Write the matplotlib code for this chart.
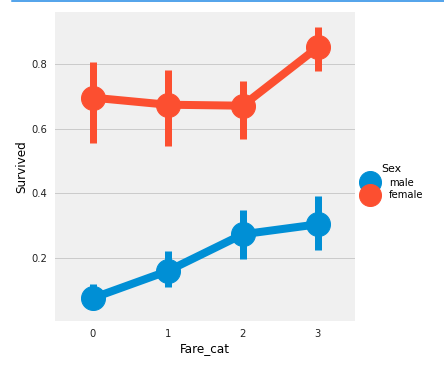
import matplotlib
matplotlib.use("Agg")
import matplotlib.pyplot as plt
from matplotlib.lines import Line2D

fare_cat = [0, 1, 2, 3]
tick_labels = ["0", "1", "2", "3"]

male_mean = [0.075, 0.159, 0.273, 0.304]
male_low = [0.040, 0.110, 0.197, 0.225]
male_high = [0.120, 0.222, 0.347, 0.393]

female_mean = [0.697, 0.675, 0.672, 0.853]
female_low = [0.556, 0.547, 0.569, 0.781]
female_high = [0.809, 0.784, 0.750, 0.916]

BLUE = "#008fd5"
RED = "#fc4f30"

fig = plt.figure(figsize=(444 / 72, 365 / 72), dpi=72)
fig.patch.set_facecolor("white")
ax = fig.add_axes([0.124, 0.1205, 0.676, 0.8465])
ax.set_facecolor("#f0f0f0")

for mean, low, high, color in [(male_mean, male_low, male_high, BLUE),
                               (female_mean, female_low, female_high, RED)]:
    ax.vlines(fare_cat, low, high, color=color, linewidth=7, zorder=3)
    ax.plot(fare_cat, mean, color=color, linewidth=8, marker="o",
            markersize=24, zorder=4)

ax.set_xlim(-0.5, 3.5)
ax.set_ylim(0.004, 0.9625)
ax.set_xticks(fare_cat)
ax.set_xticklabels(tick_labels)
ax.set_yticks([0.2, 0.4, 0.6, 0.8])
ax.set_yticklabels(["0.2", "0.4", "0.6", "0.8"])
ax.tick_params(length=0, labelsize=10, colors="#222222", pad=8)
ax.yaxis.grid(True, color="#cbcbcb", linewidth=1)
ax.set_axisbelow(True)
for s in ax.spines.values():
    s.set_visible(False)
ax.set_xlabel("Fare_cat", fontsize=12, labelpad=3)
ax.set_ylabel("Survived", fontsize=12, labelpad=3)

handles = [Line2D([], [], color=BLUE, marker="o", markersize=22, linestyle=""),
           Line2D([], [], color=RED, marker="o", markersize=22, linestyle="")]
leg = fig.legend(handles, ["male", "female"], title="Sex", loc="center left",
                 bbox_to_anchor=(360 / 444, 0.50), frameon=False, fontsize=10,
                 title_fontsize=11, handlelength=2.0, handletextpad=0.9,
                 labelspacing=0.3, borderpad=0, borderaxespad=0)

# blue cell border at the very top
fig.add_artist(Line2D([12 / 444, 1], [1 - 1 / 365, 1 - 1 / 365],
                      color="#1e88e5", linewidth=1.5,
                      transform=fig.transFigure))

plt.savefig("out.png", dpi=72, facecolor="white")
